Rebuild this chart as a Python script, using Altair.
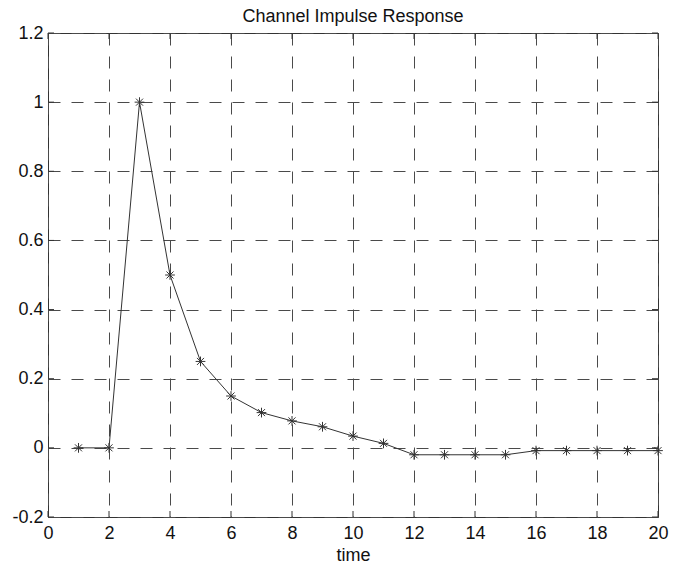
import altair as alt
import pandas as pd

time = list(range(1, 21))
response = [0, 0, 1, 0.5, 0.25, 0.15, 0.102, 0.078, 0.061, 0.034, 0.013,
            -0.02, -0.02, -0.02, -0.02, -0.008, -0.008, -0.008, -0.008, -0.008]
x_ticks = [0, 2, 4, 6, 8, 10, 12, 14, 16, 18, 20]
y_ticks = [-0.2, 0, 0.2, 0.4, 0.6, 0.8, 1, 1.2]

df = pd.DataFrame({"time": time, "h": response})
xt = pd.DataFrame({"t": x_ticks})
yt = pd.DataFrame({"v": y_ticks})

W, H = 610, 484
FONT = "Liberation Sans"
INK = "#333333"
GRID = "#4a4a4a"
TXT = "#111111"

xscale = alt.Scale(domain=[0, 20], nice=False, zero=False)
yscale = alt.Scale(domain=[-0.2, 1.2], nice=False, zero=False)

x_axis = alt.Axis(values=x_ticks, grid=True, gridDash=[12, 11], gridColor=GRID,
                  gridOpacity=1, gridWidth=1, domain=False, ticks=False,
                  labelFontSize=18, labelFont=FONT, labelColor=TXT, labelPadding=7,
                  labelFlush=False, labelOverlap=False,
                  title="time", titleFontSize=18, titleFont=FONT, titleFontWeight="normal",
                  titleColor=TXT, titlePadding=4)
y_axis = alt.Axis(values=y_ticks, grid=True, gridDash=[12, 11], gridColor=GRID,
                  gridOpacity=1, gridWidth=1, domain=False, ticks=False,
                  labelFontSize=18, labelFont=FONT, labelColor=TXT, labelPadding=5,
                  labelFlush=False, labelOverlap=False,
                  labelExpr="toString(round(datum.value*10)/10)", title=None)

base = alt.Chart(df)
line = base.mark_line(color=INK, strokeWidth=1).encode(
    x=alt.X("time:Q", scale=xscale, axis=x_axis),
    y=alt.Y("h:Q", scale=yscale, axis=y_axis),
)
star = "M-1,0L1,0M0,-1L0,1M-0.72,-0.72L0.72,0.72M-0.72,0.72L0.72,-0.72"
pts = base.mark_point(shape=star, filled=False, color=INK, strokeWidth=1, size=95, opacity=1).encode(
    x=alt.X("time:Q", scale=xscale),
    y=alt.Y("h:Q", scale=yscale),
)

tl = 6
top_t = alt.Chart(xt).mark_rule(color=INK).encode(x=alt.X("t:Q", scale=xscale), y=alt.value(0), y2=alt.value(tl))
bot_t = alt.Chart(xt).mark_rule(color=INK).encode(x=alt.X("t:Q", scale=xscale), y=alt.value(H), y2=alt.value(H - tl))
left_t = alt.Chart(yt).mark_rule(color=INK).encode(y=alt.Y("v:Q", scale=yscale), x=alt.value(0), x2=alt.value(tl))
right_t = alt.Chart(yt).mark_rule(color=INK).encode(y=alt.Y("v:Q", scale=yscale), x=alt.value(W), x2=alt.value(W - tl))

chart = alt.layer(line, pts, top_t, bot_t, left_t, right_t).properties(
    width=W, height=H,
    title=alt.TitleParams("Channel Impulse Response", fontSize=18, font=FONT,
                          fontWeight="normal", color=TXT, offset=-2, frame="group"),
    autosize=alt.AutoSizeParams(type="none"),
    padding={"left": 40, "top": 25, "right": 24, "bottom": 48},
    background="white",
).configure_view(stroke=INK, strokeWidth=1)

chart.save("out.html", embed_options={"renderer": "svg", "actions": False})
